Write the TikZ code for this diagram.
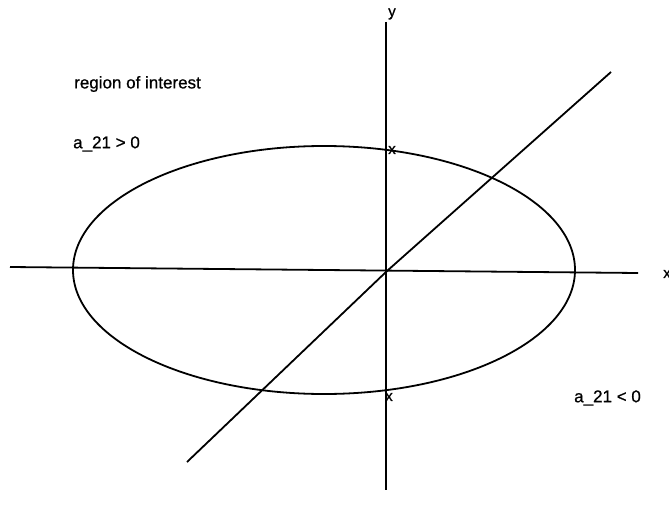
\documentclass[tikz,border=0pt]{standalone}
\usepackage{fontspec}
\setmainfont{Liberation Sans}[FakeBold=0.8]
\begin{document}
\begin{tikzpicture}[x=1pt,y=-1pt,
  curve/.style={line width=1.8pt,black},
  lbl/.style={font=\fontsize{17}{19}\selectfont,inner sep=0pt,anchor=west},
  xmark/.style={font=\fontsize{15}{17}\selectfont,inner sep=0pt}]
\useasboundingbox (0,0) rectangle (669,516);
% axes
\coordinate (xl) at (10,267);
\coordinate (xr) at (638,273);
\coordinate (yt) at (386,22);
\coordinate (yb) at (386,490);
\coordinate (o) at (387,271);
\coordinate (dl) at (187,462);
\coordinate (du) at (611,72);
\coordinate (ec) at (324,270);
\draw[curve] (xl) -- (xr);
\draw[curve] (yt) -- (yb);
\draw[curve,line join=round] (dl) -- (o) -- (du);
\draw[curve] (ec) ellipse [x radius=251, y radius=124];
% labels
\node[xmark] (ylab) at (392,14) {y};
\node[xmark] (xlab) at (667,274) {x};
\node[xmark] (m1) at (392,150) {x};
\node[xmark] (m2) at (389,397) {x};
\node[lbl] (roi) at (74,84) {region of interest};
\node[lbl] (pos) at (73,144) {a\_21 > 0};
\node[lbl] (neg) at (574,398) {a\_21 < 0};
\end{tikzpicture}
\end{document}
